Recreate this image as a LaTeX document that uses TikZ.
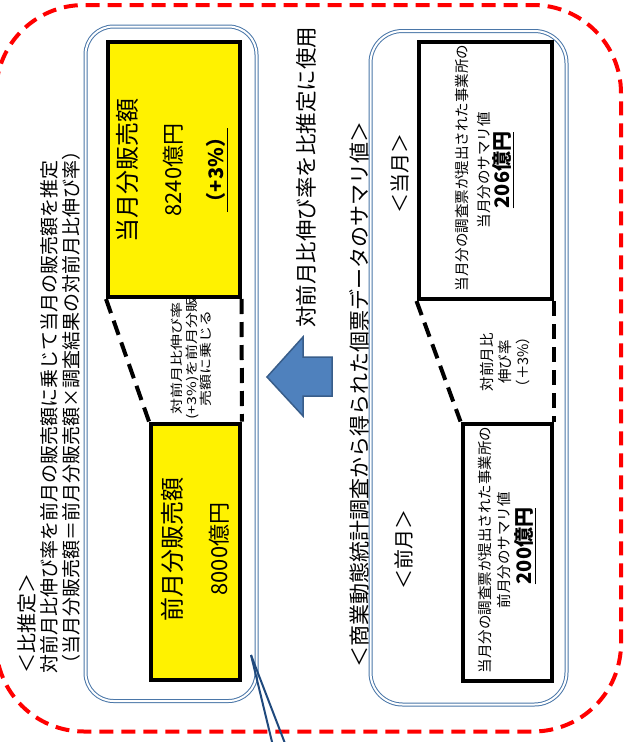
\documentclass[tikz,border=0pt]{standalone}
\usepackage{fontspec}
\setmainfont{Noto Sans CJK JP}
\definecolor{panelblue}{HTML}{4A76A8}
\definecolor{arrowfill}{HTML}{4F81BD}
\definecolor{arrowline}{HTML}{385D8A}
\definecolor{calloutblue}{HTML}{1F497D}
\definecolor{dashred}{HTML}{FF0000}
\tikzset{
  valbox/.style={draw=black, line width=4pt, inner sep=0pt},
  yelbox/.style={valbox, fill=yellow},
  panel/.style={draw=panelblue, double=white, line width=1pt, double distance=2pt, rounded corners=#1, inner sep=0pt},
  vtext/.style={rotate=90, inner sep=0pt, align=center},
  blackdash/.style={line width=4pt, dash pattern=on 15pt off 8pt},
}
\begin{document}
\begin{tikzpicture}[x=1pt,y=-1pt]
\useasboundingbox (0,0) rectangle (624,742);
% outer red dashed frame
\draw[dashred, line width=4pt, dash pattern=on 14pt off 8pt, rounded corners=88pt] (-4,5) rectangle (621,731.5);
% panels
\node[panel=28pt, minimum width=171pt, minimum height=674.5pt] (pl) at (171,363.75) {};
\node[panel=32pt, minimum width=196pt, minimum height=673.5pt] (pr) at (468.5,367.75) {};
% callout lines
\coordinate (cs) at (251,655);
\coordinate (ce1) at (273,746);
\coordinate (ce2) at (286,746);
\draw[calloutblue, line width=2pt] (cs) -- (ce1);
\draw[calloutblue, line width=2pt] (cs) -- (ce2);
% value boxes
\node[yelbox, minimum width=131.5pt, minimum height=255.5pt] (b1) at (173.75,169.25) {};
\node[yelbox, minimum width=89pt, minimum height=256pt] (b2) at (195.5,551.5) {};
\node[valbox, fill=white, minimum width=133.5pt, minimum height=257.5pt] (b3) at (485.25,170.25) {};
\node[valbox, fill=white, minimum width=89.5pt, minimum height=257pt] (b4) at (507.25,552) {};
% dashed connectors
\draw[blackdash] (b1.south west) -- (b2.north west);
\draw[blackdash] (b1.south east) -- (b2.north east);
\draw[blackdash] (b3.south west) -- (b4.north west);
\draw[blackdash] (b3.south east) -- (b4.north east);
% texts in yellow boxes
\node[vtext, font=\fontsize{24}{28}\selectfont] (t1a) at (127,170) {当月分販売額};
\node[vtext, font=\fontsize{22}{26}\selectfont] (t1b) at (173,170) {8240億円};
\node[vtext, font=\fontsize{20}{24}\selectfont\bfseries] (t1c) at (217,170) {\underline{（+3\%）}};
\node[vtext, font=\fontsize{24}{28}\selectfont] (t2a) at (172,549) {前月分販売額};
\node[vtext, font=\fontsize{22}{26}\selectfont] (t2b) at (219,549) {8000億円};
% texts in white boxes
\node[vtext, font=\fontsize{14.5}{17}\selectfont] (t3a) at (462,168) {当月分の調査票が提出された事業所の};
\node[vtext, font=\fontsize{14.5}{17}\selectfont] (t3b) at (484,170) {当月分のサマリ値};
\node[vtext, font=\fontsize{20}{24}\selectfont\bfseries] (t3c) at (503,170) {\underline{206億円}};
\node[vtext, font=\fontsize{14.5}{17}\selectfont] (t4a) at (485,550) {当月分の調査票が提出された事業所の};
\node[vtext, font=\fontsize{14.5}{17}\selectfont] (t4b) at (504,550) {前月分のサマリ値};
\node[vtext, font=\fontsize{20}{24}\selectfont\bfseries] (t4c) at (525,546) {\underline{200億円}};
\node[vtext, font=\fontsize{20}{24}\selectfont] (m3) at (400,173) {＜当月＞};
\node[vtext, font=\fontsize{20}{24}\selectfont] (m4) at (404,549) {＜前月＞};
% middle texts
\node[vtext, font=\fontsize{16}{17.5}\selectfont] (mid1) at (193,358) {\scalebox{1}[0.78]{\begin{tabular}{@{}c@{}}対前月比伸び率\\(+3\%)を前月分販\\売額に乗じる\end{tabular}}};
\node[vtext, font=\fontsize{14.5}{18}\selectfont] (mid2) at (505,362) {対前月比\\伸び率\\（＋3\%）};
% arrow
\draw[arrowline, line width=1.5pt, fill=arrowfill, line join=miter] (267,377) -- (303,337) -- (303,357) -- (332,357) -- (332,396) -- (303,396) -- (303,416) -- cycle;
% big labels
\node[vtext, font=\fontsize{21.5}{24}\selectfont] (big1) at (306,177) {対前月比伸び率を比推定に使用};
\node[vtext, font=\fontsize{21}{24}\selectfont] (big2) at (359,394.5) {＜商業動態統計調査から得られた個票データのサマリ値＞};
% ratio-estimation explanation
\node[vtext, anchor=west, font=\fontsize{20}{24}\selectfont] (h1) at (27,674) {＜比推定＞};
\node[vtext, anchor=west, font=\fontsize{19}{22}\selectfont] (h2) at (49,674) {対前月比伸び率を前月の販売額に乗じて当月の販売額を推定};
\node[vtext, anchor=west, font=\fontsize{19}{22}\selectfont] (h3) at (71,674) {（当月分販売額＝前月分販売額×調査結果の対前月比伸び率）};
\end{tikzpicture}
\end{document}
